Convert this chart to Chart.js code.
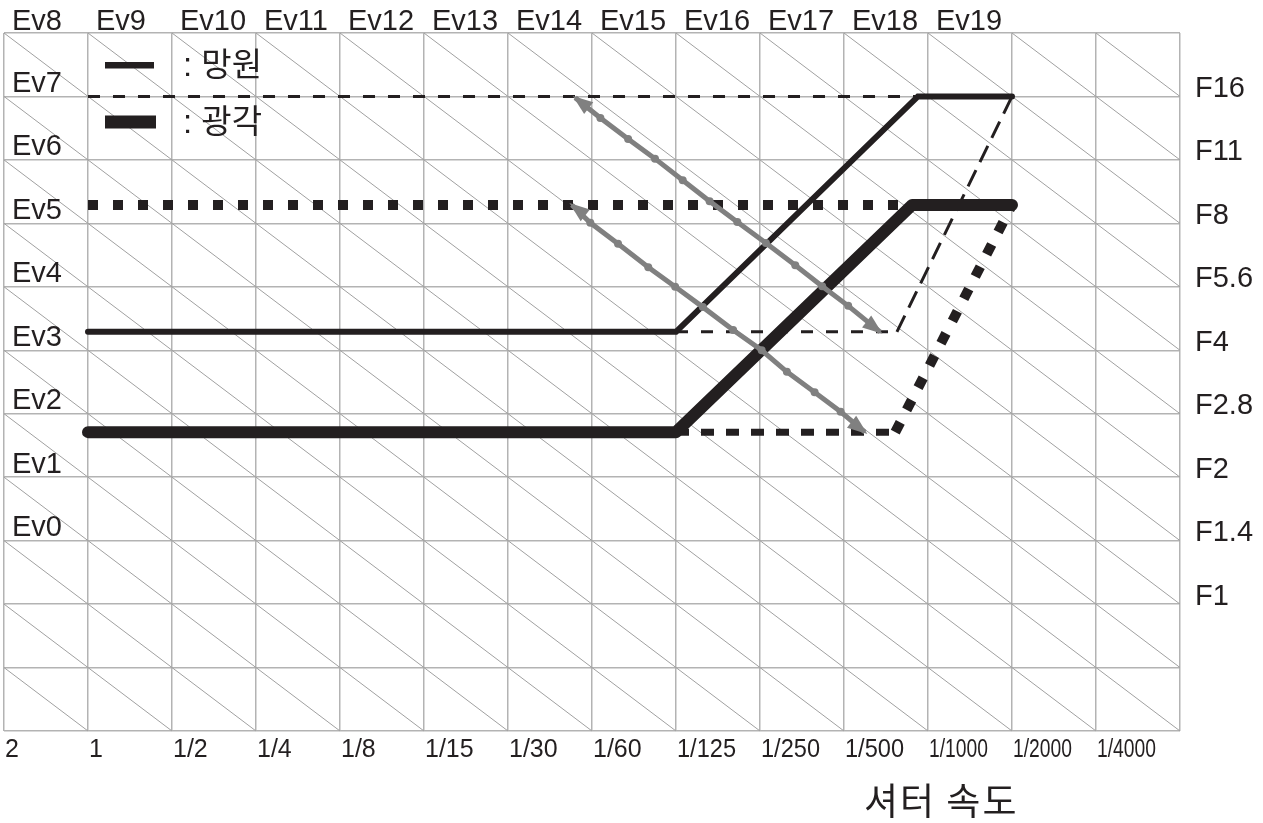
<!DOCTYPE html>
<html>
<head>
<meta charset="utf-8">
<script src="https://cdn.jsdelivr.net/npm/chart.js@4.4.0/dist/chart.umd.min.js"></script>
<style>
  html, body { margin: 0; padding: 0; background: #fff; }
  #wrap { width: 1263px; height: 823px; }
</style>
</head>
<body>
<div id="wrap"><canvas id="exposure-chart"></canvas></div>
<script>
// axis labels
var shutterLabels = ['2', '1', '1/2', '1/4', '1/8', '1/15', '1/30', '1/60', '1/125', '1/250', '1/500', '1/1000', '1/2000', '1/4000']
var evTopLabels = ['Ev8', 'Ev9', 'Ev10', 'Ev11', 'Ev12', 'Ev13', 'Ev14', 'Ev15', 'Ev16', 'Ev17', 'Ev18', 'Ev19']
var evTopStops = [0, 1, 2, 3, 4, 5, 6, 7, 8, 9, 10, 11]
var evSideLabels = ['Ev7', 'Ev6', 'Ev5', 'Ev4', 'Ev3', 'Ev2', 'Ev1', 'Ev0']
var evSideStops = [10, 9, 8, 7, 6, 5, 4, 3]
var fNumberLabels = ['F16', 'F11', 'F8', 'F5.6', 'F4', 'F2.8', 'F2', 'F1.4', 'F1']
var fNumberStops = [10, 9, 8, 7, 6, 5, 4, 3, 2]

// 망원 (tele) program
var teleX = [1, 8, 10.88, 12]
var teleY = [6.29, 6.29, 10, 10]
var teleLimitX = [1, 10.88]
var teleLimitY = [10, 10]
var teleShiftX = [8, 10.63, 12]
var teleShiftY = [6.29, 6.29, 10]

// 광각 (wide) program
var wideX = [1, 8, 10.81, 12]
var wideY = [4.71, 4.71, 8.29, 8.29]
var wideLimitX = [1, 10.81]
var wideLimitY = [8.29, 8.29]
var wideShiftX = [8, 10.61, 12]
var wideShiftY = [4.71, 4.71, 8.29]

// grey shift arrows, dots every third stop
var arrowUpperX = [6.80, 7.10, 7.43, 7.75, 8.08, 8.40, 8.73, 9.07, 9.42, 9.74, 10.05, 10.43]
var arrowUpperY = [9.98, 9.66, 9.33, 9.02, 8.68, 8.35, 8.02, 7.69, 7.34, 7.01, 6.70, 6.29]
var arrowLowerX = [6.76, 6.98, 7.31, 7.67, 7.99, 8.32, 8.68, 9.02, 9.32, 9.65, 9.96, 10.25]
var arrowLowerY = [8.29, 8.01, 7.68, 7.31, 7.00, 6.68, 6.32, 6.00, 5.66, 5.34, 5.03, 4.71]

var ink = '#231f20'
var grey = '#808080'
var latinFont = '"Liberation Sans", Arial, sans-serif'
var koreanFont = '"Noto Sans CJK KR", sans-serif'

function toPoints(xs, ys) {
    return xs.map(function (x, i) { return { x: x, y: ys[i] } })
}

function innerDots(ctx) {
    var n = ctx.dataset.data.length
    return (ctx.dataIndex === 0 || ctx.dataIndex === n - 1) ? 0 : 4
}

function isFlat(c) {
    return c.p0.parsed.y === c.p1.parsed.y
}

var diagonalGrid = {
    id: 'diagonalGrid',
    beforeDatasetsDraw: function (chart) {
        var xs = chart.scales.x, ys = chart.scales.y, ctx = chart.ctx
        ctx.save()
        ctx.strokeStyle = '#a0a0a0'
        ctx.lineWidth = 1
        for (var s = 1; s < xs.max + ys.max; s++) {
            var x0 = Math.max(xs.min, s - ys.max)
            var x1 = Math.min(xs.max, s)
            ctx.beginPath()
            ctx.moveTo(xs.getPixelForValue(x0), ys.getPixelForValue(s - x0))
            ctx.lineTo(xs.getPixelForValue(x1), ys.getPixelForValue(s - x1))
            ctx.stroke()
        }
        ctx.restore()
    }
}

var arrowHeads = {
    id: 'arrowHeads',
    afterDatasetsDraw: function (chart) {
        var ctx = chart.ctx
        chart.data.datasets.forEach(function (ds, i) {
            if (!ds.arrowHeads) return
            var pts = chart.getDatasetMeta(i).data
            var a = pts[0], b = pts[pts.length - 1]
            var ang = Math.atan2(b.y - a.y, b.x - a.x)
            drawHead(ctx, b.x, b.y, ang, ds.borderColor)
            drawHead(ctx, a.x, a.y, ang + Math.PI, ds.borderColor)
        })
    }
}

function drawHead(ctx, x, y, ang, color) {
    var len = 20, half = 7.5, ext = 3
    var tx = x + Math.cos(ang) * ext, ty = y + Math.sin(ang) * ext
    var bx = tx - Math.cos(ang) * len, by = ty - Math.sin(ang) * len
    ctx.save()
    ctx.fillStyle = color
    ctx.beginPath()
    ctx.moveTo(tx, ty)
    ctx.lineTo(bx - Math.sin(ang) * half, by + Math.cos(ang) * half)
    ctx.lineTo(bx + Math.sin(ang) * half, by - Math.cos(ang) * half)
    ctx.closePath()
    ctx.fill()
    ctx.restore()
}

var chartText = {
    id: 'chartText',
    afterDraw: function (chart) {
        var xs = chart.scales.x, ys = chart.scales.y, ctx = chart.ctx
        var area = chart.chartArea
        ctx.save()
        ctx.fillStyle = ink
        ctx.textAlign = 'left'
        ctx.textBaseline = 'alphabetic'

        ctx.font = '29px ' + latinFont
        evTopLabels.forEach(function (t, i) {
            ctx.fillText(t, xs.getPixelForValue(evTopStops[i]) + 8, 30)
        })
        evSideLabels.forEach(function (t, i) {
            ctx.fillText(t, area.left + 8, ys.getPixelForValue(evSideStops[i]) - 4.5)
        })
        fNumberLabels.forEach(function (t, i) {
            ctx.fillText(t, area.right + 15, ys.getPixelForValue(fNumberStops[i]) + 0.5)
        })

        ctx.font = '25px ' + latinFont
        shutterLabels.forEach(function (t, i) {
            ctx.fillText(t, xs.getPixelForValue(i) + 1, area.bottom + 26, 59)
        })

        // legend
        ctx.fillRect(105, 62, 49, 6.5)
        ctx.fillRect(105, 115.5, 51, 13)
        ctx.textBaseline = 'middle'
        ctx.font = '33px ' + latinFont + ', ' + koreanFont
        ctx.fillText(': 망원', 183, 67)
        ctx.fillText(': 광각', 183, 124)

        ctx.font = '37px ' + koreanFont
        ctx.letterSpacing = '2px'
        ctx.fillText('셔터 속도', 864, 801)
        ctx.restore()
    }
}

function createChart() {
    var ctx = document.getElementById('exposure-chart').getContext('2d')
    var gridOpts = { color: '#b3b3b3', lineWidth: 1.5, drawTicks: false }
    new Chart(ctx, {
        type: 'line',
        data: {
            datasets: [{
                data: toPoints(arrowUpperX, arrowUpperY),
                borderColor: grey, backgroundColor: grey, borderWidth: 5,
                pointRadius: innerDots, pointBorderWidth: 0,
                arrowHeads: true, order: 0
            }, {
                data: toPoints(arrowLowerX, arrowLowerY),
                borderColor: grey, backgroundColor: grey, borderWidth: 5,
                pointRadius: innerDots, pointBorderWidth: 0,
                arrowHeads: true, order: 0
            }, {
                label: '망원',
                data: toPoints(teleX, teleY),
                borderColor: ink, borderWidth: 6, pointRadius: 0,
                borderCapStyle: 'round', borderJoinStyle: 'miter', order: 1
            }, {
                label: '광각',
                data: toPoints(wideX, wideY),
                borderColor: ink, borderWidth: 12, pointRadius: 0,
                borderCapStyle: 'round', borderJoinStyle: 'round', order: 1
            }, {
                data: toPoints(teleLimitX, teleLimitY),
                borderColor: ink, borderWidth: 3, borderDash: [12, 13], pointRadius: 0, order: 2
            }, {
                data: toPoints(teleShiftX, teleShiftY),
                borderColor: ink, borderWidth: 3, borderDash: [12, 13], pointRadius: 0, order: 2,
                segment: {
                    borderDash: function (c) { return isFlat(c) ? undefined : [18, 9] }
                }
            }, {
                data: toPoints(wideLimitX, wideLimitY),
                borderColor: ink, borderWidth: 10, borderDash: [10, 15], pointRadius: 0, order: 2
            }, {
                data: toPoints(wideShiftX, wideShiftY),
                borderColor: ink, borderWidth: 10, borderDash: [11, 14], pointRadius: 0, order: 2,
                segment: {
                    borderWidth: function (c) { return isFlat(c) ? 7 : undefined },
                    borderDash: function (c) { return isFlat(c) ? [13, 12] : undefined }
                }
            }]
        },
        options: {
            responsive: true,
            maintainAspectRatio: false,
            animation: false,
            layout: { padding: { left: 4, right: 83, top: 33, bottom: 92 } },
            plugins: { legend: { display: false }, tooltip: { enabled: false } },
            scales: {
                x: {
                    type: 'linear', min: 0, max: 14,
                    ticks: { stepSize: 1, display: false },
                    grid: gridOpts, border: { display: false }
                },
                y: {
                    type: 'linear', min: 0, max: 11,
                    ticks: { stepSize: 1, display: false },
                    grid: gridOpts, border: { display: false }
                }
            }
        },
        plugins: [diagonalGrid, arrowHeads, chartText]
    })
}

createChart()
</script>
</body>
</html>
